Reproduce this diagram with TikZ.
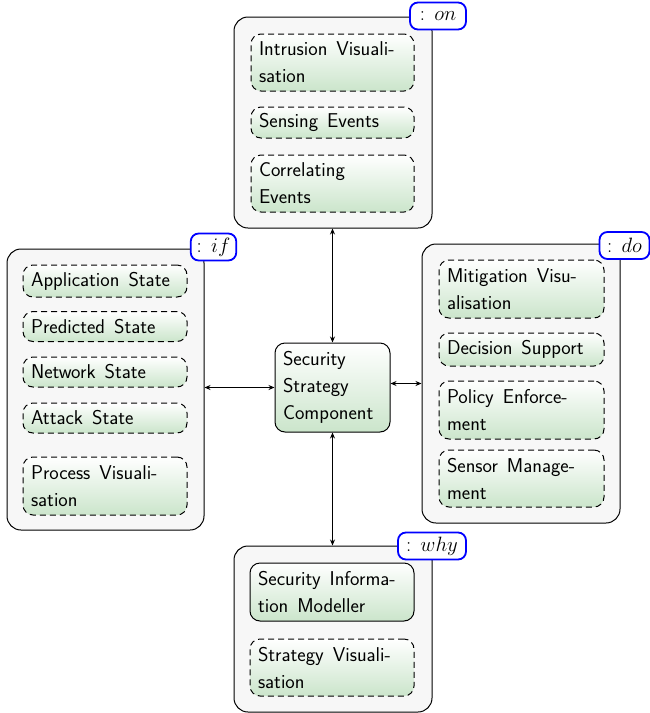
\documentclass[tikz,border=0pt]{standalone}
\usetikzlibrary{arrows.meta}
\definecolor{itemgreen}{RGB}{203,229,203}
\newcommand\widespaces{\spaceskip=9pt plus 2pt minus 1pt\relax}
\begin{document}
\begin{tikzpicture}[x=1pt,y=-1pt,
  every node/.style={font=\fontsize{20}{27}\selectfont\sffamily, execute at begin node=\widespaces},
  grp/.style={draw=black, fill=black!3, rounded corners=14pt, line width=1pt, minimum width=198pt},
  item/.style={draw=black, line width=1pt, dash pattern=on 6pt off 4pt, rounded corners=10pt,
     top color=white, bottom color=itemgreen, align=left, inner xsep=8pt, inner ysep=0pt},
  solitem/.style={item, solid},
  tag/.style={draw=blue, line width=1.8pt, fill=white, rounded corners=8pt, inner xsep=6pt, inner ysep=0pt,
     minimum height=27pt, font=\fontsize{22}{27}\selectfont},
  conn/.style={line width=0.8pt, {Stealth[length=6pt,width=5pt]}-{Stealth[length=6pt,width=5pt]}}
]
\useasboundingbox (0,0) rectangle (650,713);

% groups
\node[grp, minimum height=211pt] (topg) at (333,122.5) {};
\node[grp, minimum width=197pt, minimum height=281pt] (leftg) at (105.5,389.5) {};
\node[grp, minimum height=279pt] (rightg) at (521,383.5) {};
\node[grp, minimum height=166pt] (botg) at (333,629) {};

% top items
\node[item, minimum width=163pt, text width=147pt, minimum height=57pt] (iv) at (332.5,62.5) {Intrusion Visuali-\\sation};
\node[item, minimum width=163pt, text width=147pt, minimum height=31pt] (se) at (332.5,122.5) {Sensing Events};
\node[item, minimum width=163pt, text width=147pt, minimum height=57pt] (ce) at (332.5,183.5) {Correlating\\Events};

% left items
\node[item, minimum width=164pt, text width=148pt, minimum height=32pt] (as) at (105,281) {Application State};
\node[item, minimum width=164pt, text width=148pt, minimum height=30pt] (ps) at (105,326.5) {Predicted State};
\node[item, minimum width=164pt, text width=148pt, minimum height=30pt] (ns) at (105,372) {Network State};
\node[item, minimum width=164pt, text width=148pt, minimum height=30pt] (ats) at (105,418) {Attack State};
\node[item, minimum width=164pt, text width=148pt, minimum height=58pt] (pv) at (105,486) {Process Visuali-\\sation};

% right items
\node[item, minimum width=165pt, text width=149pt, minimum height=58pt] (mv) at (521.5,289) {Mitigation Visu-\\alisation};
\node[item, minimum width=165pt, text width=149pt, minimum height=33pt] (ds) at (521.5,349.5) {Decision Support};
\node[item, minimum width=165pt, text width=149pt, minimum height=58pt] (pe) at (521.5,410) {Policy Enforce-\\ment};
\node[item, minimum width=165pt, text width=149pt, minimum height=57pt] (sm) at (521.5,478.5) {Sensor Manage-\\ment};

% bottom items
\node[solitem, minimum width=164pt, text width=148pt, minimum height=58pt] (sim) at (332,592) {Security Informa-\\tion Modeller};
\node[item, minimum width=164pt, text width=148pt, minimum height=57pt] (sv) at (332,667.5) {Strategy Visuali-\\sation};

% center
\node[solitem, minimum width=115pt, text width=99pt, minimum height=89pt] (ssc) at (332.5,387.5) {Security\\Strategy\\Component};

% connectors
\draw[conn] (topg.south -| ssc.north) -- (ssc.north);
\draw[conn] (ssc.south) -- (botg.north -| ssc.south);
\draw[conn] (ssc.west) -- (ssc.west -| leftg.east);
\draw[conn] (rightg.west -| ssc.east) -- (rightg.west);

% tags
\node[tag, minimum width=56pt] (ton) at (438,16) {$:\,on$};
\node[tag, minimum width=45pt] (tif) at (213.5,247) {$:\,if$};
\node[tag, minimum width=50pt] (tdo) at (624.5,245.5) {$:\,do$};
\node[tag, minimum width=68pt] (twhy) at (432,546) {$:\,why$};
\end{tikzpicture}
\end{document}
